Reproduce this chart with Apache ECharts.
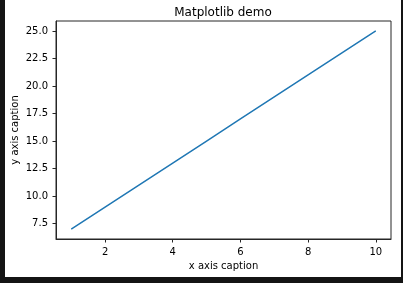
<!DOCTYPE html>
<html>
<head>
<meta charset="utf-8">
<script src="https://cdn.jsdelivr.net/npm/echarts@6/dist/echarts.min.js"></script>
<style>
  html, body { margin: 0; padding: 0; background: #141414; width: 403px; height: 283px; overflow: hidden; }
  #chart { position: absolute; left: 5px; top: 0; width: 396px; height: 277px; background: #fff; }
</style>
</head>
<body>
<div id="chart"></div>
<script>
// data
var xValues = [1, 2, 3, 4, 5, 6, 7, 8, 9, 10];
var yValues = [7, 9, 11, 13, 15, 17, 19, 21, 23, 25];
var xTicks = [2, 4, 6, 8, 10];
var yTicks = [7.5, 10, 12.5, 15, 17.5, 20, 22.5, 25];

document.addEventListener('DOMContentLoaded', function () {
  var chart = echarts.init(document.getElementById('chart'));
  var font = 'DejaVu Sans';
  var dark = '#262626';

  var option = {
    animation: false,
    textStyle: { fontFamily: font },
    title: {
      text: 'Matplotlib demo',
      left: 213, top: 2, textAlign: 'center',
      textStyle: { fontFamily: font, fontSize: 12, fontWeight: 'normal', color: '#000' }
    },
    grid: {
      left: 51, right: 10, top: 21, bottom: 38,
      outerBoundsMode: 'none', containLabel: false,
      show: true, borderColor: dark, borderWidth: 1, backgroundColor: 'transparent'
    },
    xAxis: {
      type: 'value', min: 0.55, max: 10.45,
      name: 'x axis caption', nameLocation: 'middle', nameGap: 22, nameMoveOverlap: false,
      nameTextStyle: { fontFamily: font, fontSize: 10, color: '#000' },
      axisLine: { show: true, lineStyle: { color: dark } },
      axisTick: { show: true, length: 3.5, customValues: xTicks, lineStyle: { color: dark } },
      axisLabel: { customValues: xTicks, margin: 8, fontSize: 10, color: '#000', fontFamily: font },
      splitLine: { show: false }
    },
    yAxis: {
      type: 'value', min: 6.1, max: 25.9,
      name: 'y axis caption', nameLocation: 'middle', nameGap: 36, nameRotate: 90, nameMoveOverlap: false,
      nameTextStyle: { fontFamily: font, fontSize: 10, color: '#000' },
      axisLine: { show: true, lineStyle: { color: dark } },
      axisTick: { show: true, length: 3.5, customValues: yTicks, lineStyle: { color: dark } },
      axisLabel: {
        customValues: yTicks, margin: 8, fontSize: 10, color: '#000', fontFamily: font,
        formatter: function (v) { return v.toFixed(1); }
      },
      splitLine: { show: false }
    },
    series: [{
      type: 'line',
      data: xValues.map(function (x, i) { return [x, yValues[i]]; }),
      symbol: 'none',
      lineStyle: { color: '#1f77b4', width: 1.5 }
    }]
  };
  chart.setOption(option);
});
</script>
</body>
</html>
